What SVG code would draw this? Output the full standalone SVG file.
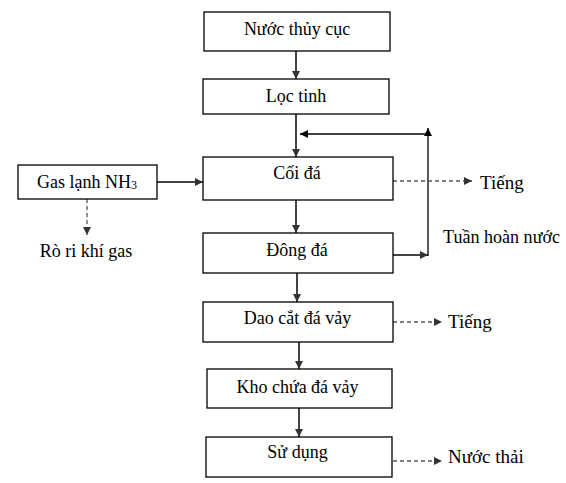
<svg xmlns="http://www.w3.org/2000/svg" width="566" height="483" viewBox="0 0 566 483" font-family="'Liberation Serif', 'DejaVu Serif', serif">
<defs>
<marker id="ah" viewBox="0 0 10 10" refX="10" refY="5" markerWidth="8" markerHeight="8" markerUnits="userSpaceOnUse" orient="auto">
<path d="M0,0 L10,5 L0,10 z" fill="#000"/>
</marker>
<marker id="ahg" viewBox="0 0 10 10" refX="10" refY="5" markerWidth="8" markerHeight="8" markerUnits="userSpaceOnUse" orient="auto">
<path d="M0,0 L10,5 L0,10 z" fill="#333"/>
</marker>
</defs>
<style>
rect{fill:#fff;stroke:#000;stroke-width:1.3}
text{font-family:'Liberation Serif','DejaVu Serif',serif;font-size:18px;fill:#000}
.c{text-anchor:middle}
.b{font-size:19px}
.s{stroke:#444;stroke-width:2;fill:none;marker-end:url(#ahg)}
.k{stroke:#000;stroke-width:1.3;fill:none;marker-end:url(#ah)}
.d{stroke:#555;stroke-width:1.3;fill:none;stroke-dasharray:4 3;marker-end:url(#ahg)}
</style>
<g id="connectors">
<line class="s" x1="296" y1="51" x2="296" y2="79"/>
<line class="s" x1="296" y1="114" x2="296" y2="157"/>
<line class="s" x1="296" y1="200" x2="296" y2="233"/>
<line class="s" x1="297" y1="273" x2="297" y2="302"/>
<line class="s" x1="299" y1="342" x2="299" y2="369"/>
<line class="s" x1="299" y1="408" x2="299" y2="437"/>
<line class="s" x1="157" y1="182" x2="203" y2="182"/>
<line class="d" x1="87" y1="199" x2="87" y2="235"/>
<line class="s" x1="393" y1="255" x2="428" y2="255"/>
<line class="k" x1="428" y1="256" x2="428" y2="128"/>
<line class="k" x1="426" y1="134" x2="300" y2="134"/>
<line class="d" x1="393" y1="181" x2="472" y2="181"/>
<line class="d" x1="393" y1="322" x2="442" y2="322"/>
<line class="d" x1="393" y1="461" x2="442" y2="461"/>
</g>
<g id="n1"><rect x="204" y="12" width="186" height="39"/><text class="c" x="297" y="35">Nước thủy cục</text></g>
<g id="n2"><rect x="203" y="79" width="186" height="35"/><text class="c" x="296" y="102">Lọc tinh</text></g>
<g id="n3"><rect x="203" y="157" width="190" height="43"/><text class="c" x="297" y="179">Cối đá</text></g>
<g id="n4"><rect x="203" y="233" width="190" height="40"/><text class="c" x="297" y="256">Đông đá</text></g>
<g id="n5"><rect x="203" y="302" width="190" height="40"/><text class="c" x="297.5" y="324">Dao cắt đá vảy</text></g>
<g id="n6"><rect x="207" y="369" width="185" height="39"/><text class="c" x="297.5" y="393">Kho chứa đá vảy</text></g>
<g id="n7"><rect x="206" y="437" width="186" height="40"/><text class="c" x="297.5" y="458">Sử dụng</text></g>
<g id="n8"><rect x="18" y="165" width="139" height="34"/><text class="c" x="87" y="188">Gas lạnh NH<tspan font-size="12" dy="1">3</tspan></text></g>
<g id="t1"><text class="c" x="86" y="257">Rò ri khí gas</text></g>
<g id="t2"><text class="b" x="480" y="189">Tiếng</text></g>
<g id="t3"><text x="443" y="243" textLength="117" lengthAdjust="spacingAndGlyphs">Tuần hoàn nước</text></g>
<g id="t4"><text class="b" x="448" y="328">Tiếng</text></g>
<g id="t5"><text class="b" x="448" y="463">Nước thải</text></g>
</svg>
